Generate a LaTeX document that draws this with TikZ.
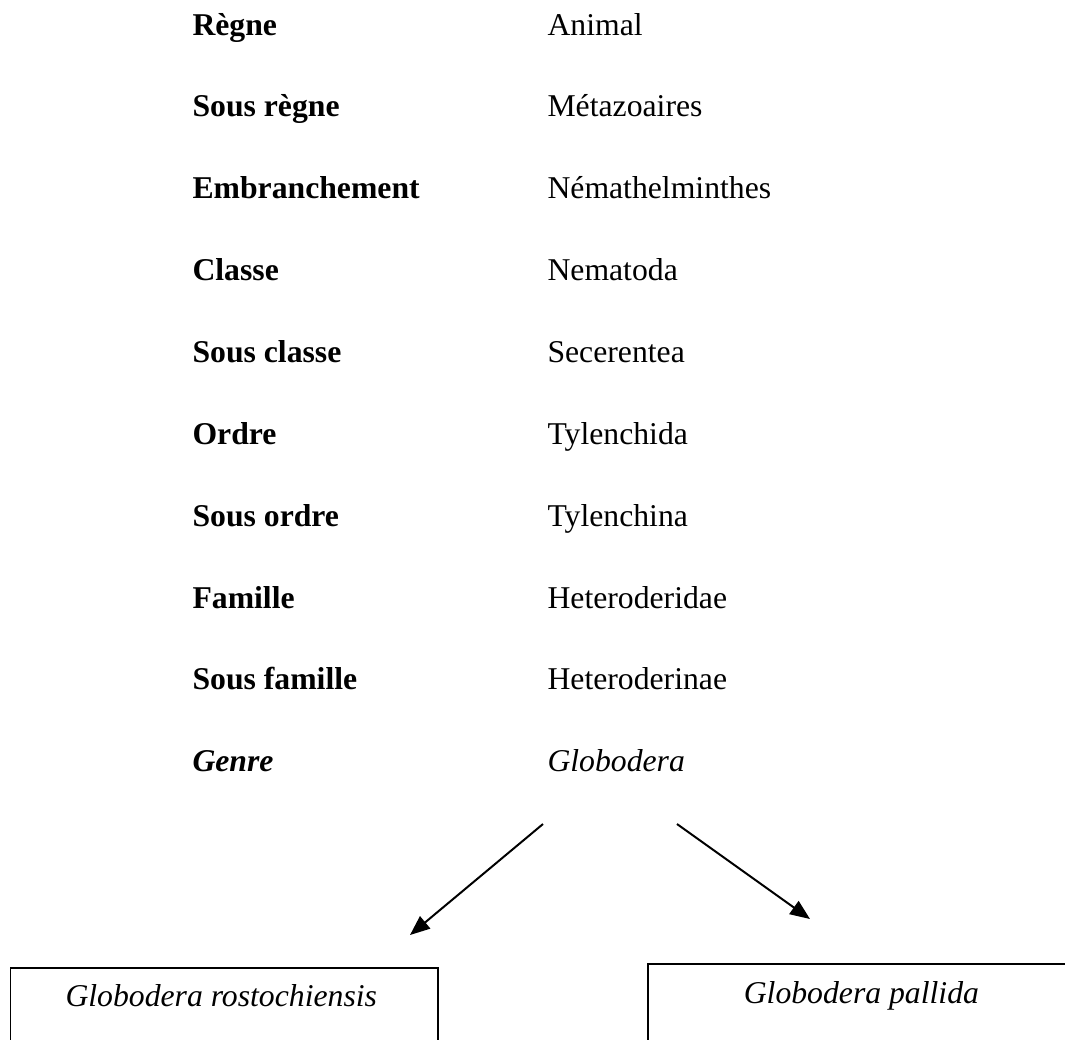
\documentclass[tikz,border=0pt,12pt]{standalone}
\usepackage{fontspec}
\setmainfont{Liberation Serif}
\usetikzlibrary{arrows.meta}

\tikzset{
    rank/.style={anchor=base west, inner sep=0pt, font=\bfseries},
    taxon/.style={anchor=base west, inner sep=0pt},
    speciesbox/.style={draw, line width=0.6pt, rectangle, anchor=north west, minimum height=60pt, inner sep=0pt},
    species/.style={anchor=base west, inner sep=0pt, font=\itshape},
    branch/.style={line width=0.75pt, -{Triangle[length=7.5pt,width=6pt]}}
}

\begin{document}
\begin{tikzpicture}[x=0.3785pt, y=-0.3785pt]
    \useasboundingbox (0, 0) rectangle (1065, 1039);
    \clip (0, 0) rectangle (1065, 1039);

    \node[rank] (regne) at (192, 35) {Règne};
    \node[taxon] (animal) at (547, 35) {Animal};

    \node[rank] (sousregne) at (192, 116.9) {Sous règne};
    \node[taxon] (metazoaires) at (547, 116.9) {Métazoaires};

    \node[rank] (embranchement) at (192, 198.7) {Embranchement};
    \node[taxon] (nemathelminthes) at (547, 198.7) {Némathelminthes};

    \node[rank] (classe) at (192, 280.6) {Classe};
    \node[taxon] (nematoda) at (547, 280.6) {Nematoda};

    \node[rank] (sousclasse) at (192, 362.4) {Sous classe};
    \node[taxon] (secerentea) at (547, 362.4) {Secerentea};

    \node[rank] (ordre) at (192, 444.3) {Ordre};
    \node[taxon] (tylenchida) at (547, 444.3) {Tylenchida};

    \node[rank] (sousordre) at (192, 526.2) {Sous ordre};
    \node[taxon] (tylenchina) at (547, 526.2) {Tylenchina};

    \node[rank] (famille) at (192, 608.0) {Famille};
    \node[taxon] (heteroderidae) at (547, 608.0) {Heteroderidae};

    \node[rank] (sousfamille) at (192, 689.9) {Sous famille};
    \node[taxon] (heteroderinae) at (547, 689.9) {Heteroderinae};

    \node[rank, font=\bfseries\itshape] (genre) at (192, 771.7) {Genre};
    \node[taxon, font=\itshape] (globodera) at (547, 771.7) {Globodera};

    \node[speciesbox, minimum width=161.8pt] (rostobox) at (9.5, 967.3) {};
    \node[species] (rostochiensis) at (65, 1006.7) {Globodera rostochiensis};

    \node[speciesbox, minimum width=170pt] (pallidabox) at (647.3, 963.3) {};
    \node[species] (pallida) at (743.3, 1003.3) {Globodera pallida};

    \coordinate (fromleft) at (543, 824);
    \coordinate (toleft) at (410, 935);
    \coordinate (fromright) at (677, 824);
    \coordinate (toright) at (810, 919);

    \draw[branch] (fromleft) -- (toleft);
    \draw[branch] (fromright) -- (toright);
\end{tikzpicture}
\end{document}
